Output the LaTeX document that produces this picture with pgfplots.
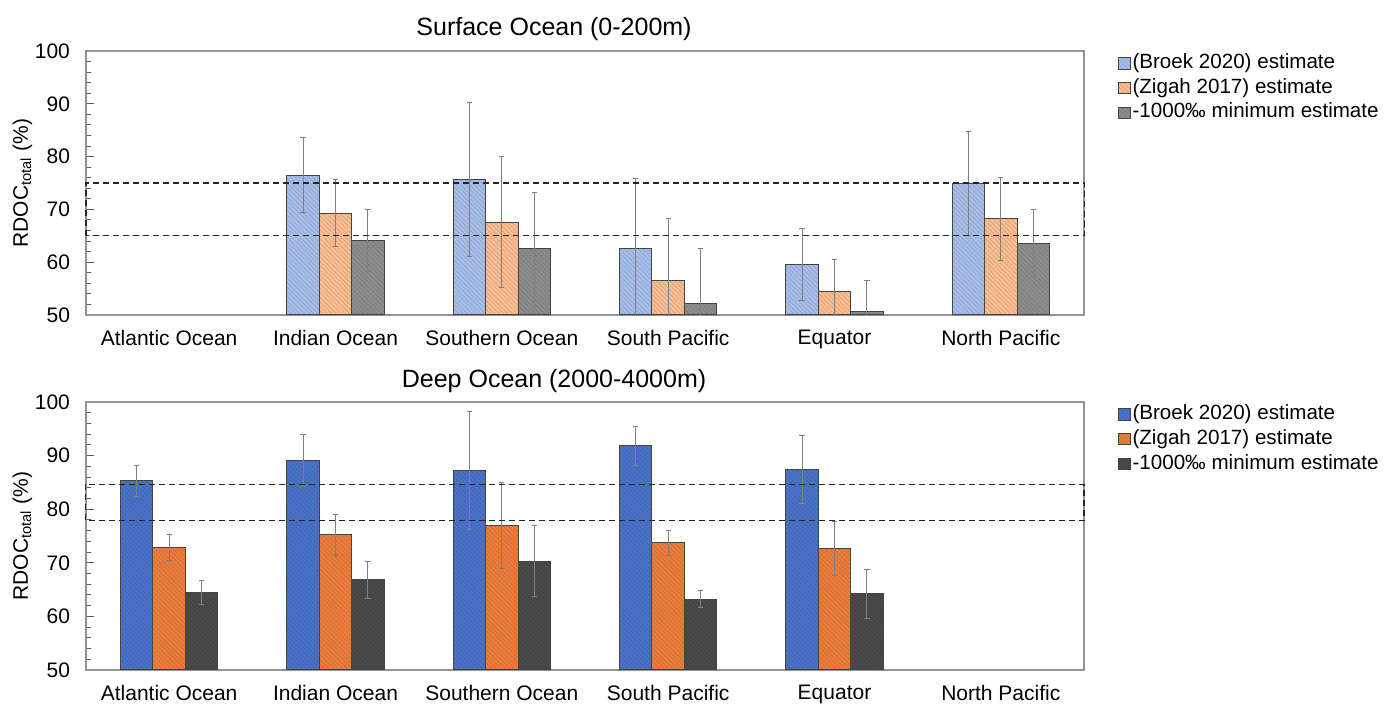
\documentclass[border=0pt]{standalone}
\usepackage{pgfplots}
\pgfplotsset{compat=1.18}
\usetikzlibrary{patterns.meta}
\usepackage{fontspec}
\setmainfont{Liberation Sans}
\definecolor{lblue}{HTML}{A5BDE8}
\definecolor{lorange}{HTML}{F8BC90}
\definecolor{lgray}{HTML}{8C8C8C}
\definecolor{dblue}{HTML}{4A72C8}
\definecolor{dorange}{HTML}{EB7D3C}
\definecolor{dgray}{HTML}{4A4A4A}
\definecolor{edge}{HTML}{444444}
\pgfplotsset{
 sqlegend/.style={legend image code/.code={\draw[##1] (0pt,-2.9pt) rectangle (5.8pt,2.9pt);}},
 myax/.style={
   scale only axis, width=499pt,
   xmin=-0.5, xmax=5.5, ymin=50, ymax=100,
   xtick={0,...,5},
   xticklabels={Atlantic Ocean, Indian Ocean, Southern Ocean, South Pacific, Equator, North Pacific},
   x tick style={draw=none},
   ytick={50,60,...,100}, minor y tick num=4,
   ytick pos=left, tick align=inside,
   major tick length=4pt, minor tick length=2.5pt,
   axis line style={draw=gray!85, line width=0.7pt},
   y tick style={gray!70!black, line width=0.5pt},
   ticklabel style={font=\fontsize{10.5}{12}\selectfont},
   yticklabel style={xshift=-4.5pt},
   /pgf/number format/assume math mode=true,
   ylabel={RDOC\textsubscript{total} (\%)},
   ylabel style={font=\fontsize{10.5}{12}\selectfont, yshift=-5.5pt},
   title style={font=\fontsize{12.5}{14}\selectfont, at={(rel axis cs:0.469,1)}, anchor=base, yshift=1.5pt},
   legend style={draw=none, fill=none, at={(rel axis cs:1.034,0.997)}, anchor=north west,
     font=\fontsize{10.3}{12}\selectfont, row sep=1.3pt, inner sep=0pt,
     nodes={inner sep=0.8pt, text height=7.3pt, text depth=2.2pt}},
   legend cell align=left,
   ybar, bar width=0.195,
   sqlegend,
   clip mode=individual,
   error bars/y dir=both, error bars/y explicit,
   error bars/error bar style={gray, line width=0.45pt},
   error bars/error mark options={rotate=90, mark size=1.3pt, gray, line width=0.45pt},
 },
 hatch/.style={draw=edge, line width=0.5pt, fill=#1, sqlegend, postaction={pattern={Lines[angle=-45,distance=1.6pt,line width=0.25pt]}, pattern color=#1!85!black}},
}
\begin{document}
\begin{tikzpicture}
\path (-43pt,-16pt) rectangle (653pt,335pt);
% ---------- Surface ocean ----------
\begin{axis}[myax, at={(0,177.5pt)}, height=132pt, title={Surface Ocean (0-200m)}]
\addplot[hatch=lblue, bar shift=-0.195] coordinates {
 (1,76.5) +- (0,7.1)
 (2,75.7) +- (0,14.6)
 (3,62.5) +- (0,13.4)
 (4,59.5) +- (0,6.8)
 (5,74.9) +- (0,9.8)};
\addplot[hatch=lorange, bar shift=0] coordinates {
 (1,69.3) +- (0,6.4)
 (2,67.6) +- (0,12.4)
 (3,56.5) +- (0,11.7)
 (4,54.4) +- (0,6.2)
 (5,68.2) +- (0,7.9)};
\addplot[hatch=lgray, bar shift=0.195] coordinates {
 (1,64.1) +- (0,5.8)
 (2,62.5) +- (0,10.8)
 (3,52.1) +- (0,10.5)
 (4,50.6) +- (0,6.0)
 (5,63.6) +- (0,6.3)};
\legend{(Broek 2020) estimate, (Zigah 2017) estimate, -1000‰ minimum estimate}
\draw[black!85, line width=0.55pt, dash pattern=on 3pt off 2pt] (axis cs:-0.5,65) rectangle (axis cs:5.505,75);
\end{axis}
% ---------- Deep ocean ----------
\begin{axis}[myax, at={(0,0)}, height=134pt, title={Deep Ocean (2000-4000m)}]
\addplot[hatch=dblue, bar shift=-0.195] coordinates {
 (0,85.3) +- (0,2.9)
 (1,89.1) +- (0,4.9)
 (2,87.3) +- (0,11.0)
 (3,91.8) +- (0,3.7)
 (4,87.4) +- (0,6.3)};
\addplot[hatch=dorange, bar shift=0] coordinates {
 (0,72.9) +- (0,2.4)
 (1,75.2) +- (0,3.9)
 (2,76.9) +- (0,8.0)
 (3,73.7) +- (0,2.3)
 (4,72.6) +- (0,5.05)};
\addplot[hatch=dgray, bar shift=0.195] coordinates {
 (0,64.5) +- (0,2.2)
 (1,66.8) +- (0,3.5)
 (2,70.3) +- (0,6.6)
 (3,63.2) +- (0,1.6)
 (4,64.2) +- (0,4.6)};
\legend{(Broek 2020) estimate, (Zigah 2017) estimate, -1000‰ minimum estimate}
\draw[black!85, line width=0.55pt, dash pattern=on 3pt off 2pt] (axis cs:-0.505,77.9) rectangle (axis cs:5.5,84.6);
\end{axis}
\end{tikzpicture}
\end{document}
